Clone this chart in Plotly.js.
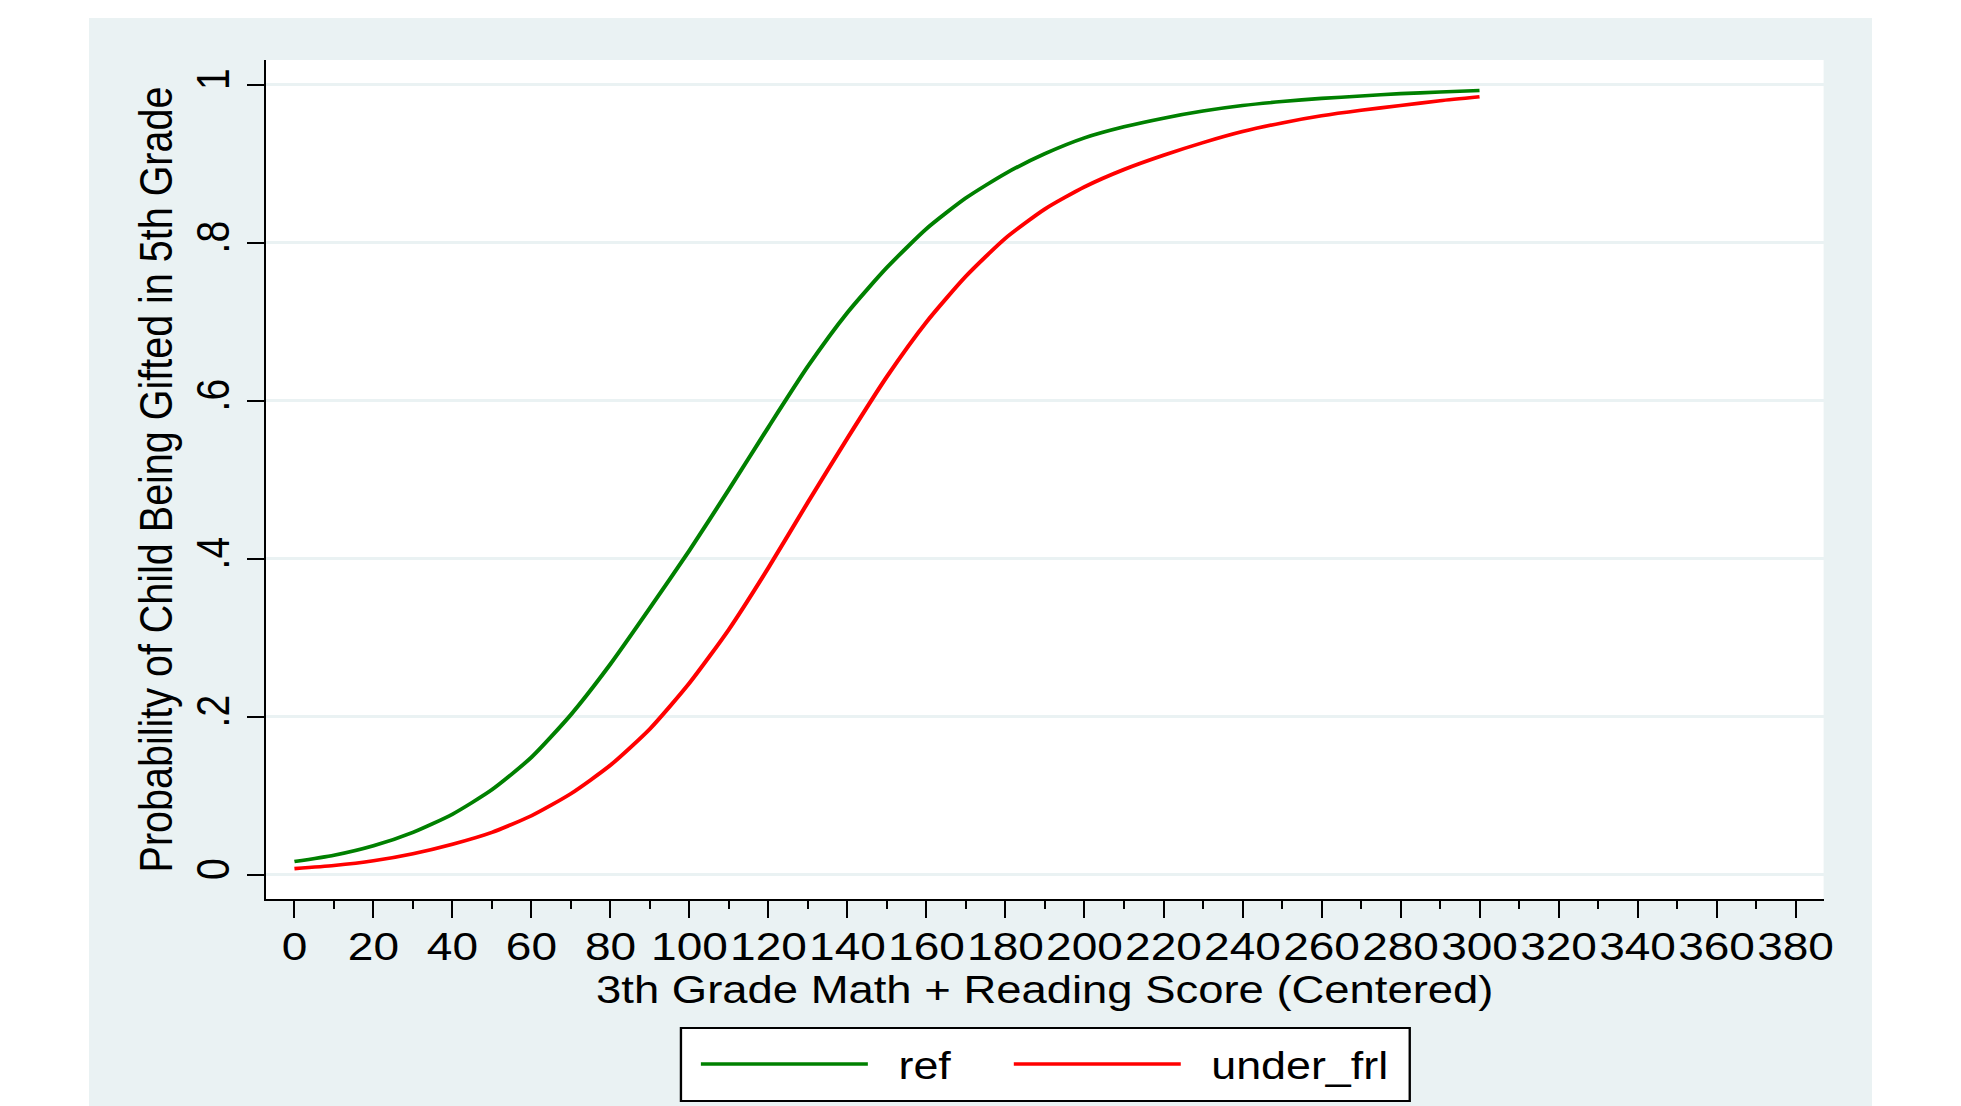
<!DOCTYPE html>
<html>
<head>
<meta charset="utf-8">
<script src="https://cdn.plot.ly/plotly-3.0.1.min.js"></script>
<style>
html,body{margin:0;padding:0;background:#ffffff;width:1961px;height:1106px;overflow:hidden;}
#wrap{position:absolute;left:89px;top:18px;width:1783px;height:1088px;overflow:hidden;background:#EAF2F3;}
#chart{position:absolute;left:0;top:0;width:1511px;height:1088px;transform:scaleX(1.18);transform-origin:0 0;}
</style>
</head>
<body>
<div id="wrap"><div id="chart"></div></div>
<script>
// Score (centered) at which probabilities were read
const scoreX = [0,10,20,30,40,50,60,70,80,90,100,110,120,130,140,150,160,170,180,190,200,210,220,230,240,250,260,270,280,290,300];
// Probability of being gifted: reference group
const refProb = [0.017,0.025,0.037,0.054,0.077,0.108,0.149,0.203,0.267,0.338,0.411,0.488,0.567,0.644,0.712,0.769,0.818,0.857,0.888,0.913,0.933,0.947,0.958,0.967,0.974,0.979,0.983,0.986,0.989,0.991,0.993];
// Probability of being gifted: under_frl group
const underFrlProb = [0.008,0.012,0.018,0.027,0.039,0.054,0.075,0.103,0.139,0.185,0.243,0.311,0.389,0.472,0.553,0.631,0.700,0.758,0.806,0.843,0.871,0.893,0.911,0.927,0.941,0.952,0.961,0.968,0.974,0.980,0.985];

const seriesNames = ['ref','under_frl'];
const seriesColors = ['#008000','#FF0000'];
const xTickVals = [0,20,40,60,80,100,120,140,160,180,200,220,240,260,280,300,320,340,360,380];
const xTickText = ['0','20','40','60','80','100','120','140','160','180','200','220','240','260','280','300','320','340','360','380'];
const yTickVals = [0,0.2,0.4,0.6,0.8,1];
const yTickText = ['0','.2','.4','.6','.8','1'];

const FONT = 'Liberation Sans, Arial, Helvetica, sans-serif';
const PANEL = '#EAF2F3';

const traces = [
  {x: scoreX, y: refProb, name: seriesNames[0], type: 'scatter', mode: 'lines', showlegend: false,
   line: {color: seriesColors[0], width: 3.6, shape: 'spline', smoothing: 0.6}},
  {x: scoreX, y: underFrlProb, name: seriesNames[1], type: 'scatter', mode: 'lines', showlegend: false,
   line: {color: seriesColors[1], width: 3.6, shape: 'spline', smoothing: 0.6}}
];

// Legend box drawn in paper coordinates below the plot
const legBox = {x0: 0.2664, x1: 0.7343, y0: -0.2408, y1: -0.1538};
const legLineY = -0.1967;
const legTextY = -0.1996;
const legItems = [
  {name: seriesNames[0], color: seriesColors[0], lx0: 0.2792, lx1: 0.3864, tx: 0.4050},
  {name: seriesNames[1], color: seriesColors[1], lx0: 0.4801, lx1: 0.5873, tx: 0.6059}
];

const shapes = [
  {type: 'rect', xref: 'paper', yref: 'paper', x0: legBox.x0, x1: legBox.x1, y0: legBox.y0, y1: legBox.y1,
   fillcolor: '#ffffff', line: {color: '#000000', width: 2}, layer: 'above'}
];
const annotations = [];
legItems.forEach(it => {
  shapes.push({type: 'line', xref: 'paper', yref: 'paper', x0: it.lx0, x1: it.lx1, y0: legLineY, y1: legLineY,
               line: {color: it.color, width: 3.6}, layer: 'above'});
  annotations.push({xref: 'paper', yref: 'paper', x: it.tx, y: legTextY, xanchor: 'left', yanchor: 'middle',
                    text: it.name, showarrow: false, borderpad: 0,
                    font: {family: FONT, size: 38, color: '#000000'}});
});

const layout = {
  width: 1511, height: 1088,
  margin: {l: 150, r: 40.7, t: 42, b: 207, pad: 0},
  paper_bgcolor: PANEL,
  plot_bgcolor: '#ffffff',
  font: {family: FONT, color: '#000000', size: 39},
  showlegend: false,
  shapes: shapes,
  annotations: annotations,
  xaxis: {
    range: [-7.2, 387.1],
    tickmode: 'array', tickvals: xTickVals, ticktext: xTickText,
    tickangle: 0,
    ticks: 'outside', ticklen: 17, tickwidth: 1.7, tickcolor: '#000000',
    ticklabelstandoff: -5,
    minor: {tickmode: 'linear', tick0: 0, dtick: 10, ticks: 'outside', ticklen: 8, tickwidth: 1.7, tickcolor: '#000000', showgrid: false},
    showline: true, linecolor: '#000000', linewidth: 2,
    showgrid: false, zeroline: false,
    tickfont: {family: FONT, size: 39, color: '#000000'},
    title: {text: '3th Grade Math + Reading Score (Centered)', font: {family: FONT, size: 38.5, color: '#000000'}, standoff: 0},
    automargin: false
  },
  yaxis: {
    range: [-0.0304, 1.0316],
    tickmode: 'array', tickvals: yTickVals, ticktext: yTickText,
    tickangle: -90,
    ticks: 'outside', ticklen: 14.4, tickwidth: 2, tickcolor: '#000000',
    ticklabelstandoff: 0,
    showline: true, linecolor: '#000000', linewidth: 1.7,
    showgrid: true, gridcolor: PANEL, gridwidth: 3,
    zeroline: false,
    tickfont: {family: FONT, size: 39, color: '#000000'},
    title: {text: 'Probability of Child Being Gifted in 5th Grade', font: {family: FONT, size: 39.5, color: '#000000'}, standoff: 0},
    automargin: false
  }
};

Plotly.newPlot('chart', traces, layout, {staticPlot: true, displayModeBar: false});
</script>
</body>
</html>
